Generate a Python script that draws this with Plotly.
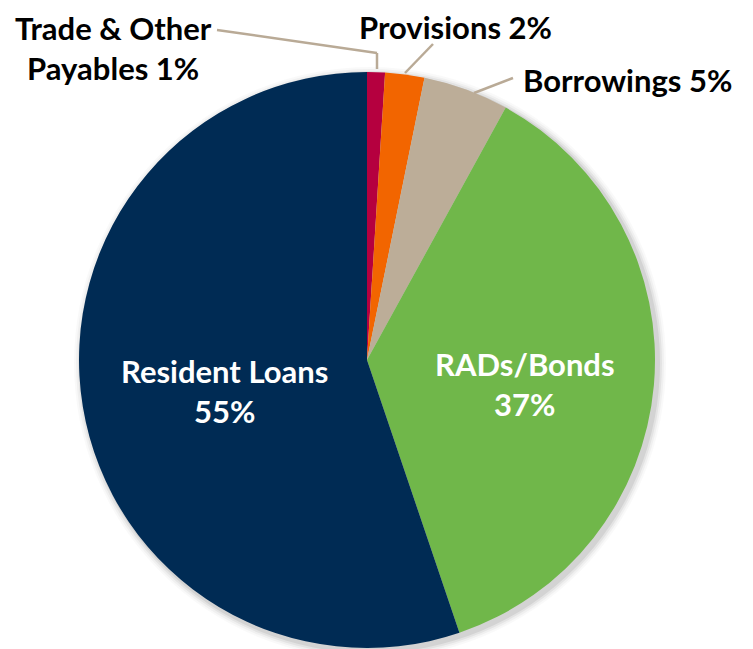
import plotly.graph_objects as go

# ---- data ----
labels = ["Trade & Other Payables", "Provisions", "Borrowings", "RADs/Bonds", "Resident Loans"]
display_labels = ["Trade & Other<br>Payables", "Provisions", "Borrowings", "RADs/Bonds", "Resident Loans"]
values = [1.0, 2.2, 4.8, 36.8, 55.2]
colors = ["#B5003F", "#F26500", "#BCAD98", "#70B74A", "#002B54"]

W, H = 753, 649
CX, CY, R = 367, 360, 288

def px(x):
    return x / W

def py(y):
    return 1 - y / H

fig = go.Figure()
fig.add_trace(go.Pie(
    labels=labels,
    values=values,
    sort=False,
    direction="clockwise",
    rotation=0,
    marker=dict(colors=colors, line=dict(width=0)),
    textinfo="none",
    hoverinfo="label+percent",
    showlegend=False,
    domain=dict(x=[px(CX - R), px(CX + R)], y=[py(CY + R), py(CY - R)]),
))

# soft shadow
shapes = []
for d, a in [(8, 0.025), (6, 0.035), (4, 0.05), (2, 0.07)]:
    shapes.append(dict(type="circle", xref="paper", yref="paper", layer="below",
                       x0=px(CX - R - d + 3), x1=px(CX + R + d + 3),
                       y0=py(CY + R + d + 3), y1=py(CY - R - d + 3),
                       fillcolor=f"rgba(0,0,0,{a})", line=dict(width=0)))

# leader lines
line_col = "#B9AA96"
leaders = [
    [(217, 30), (377, 53), (377, 69)],
    [(433, 44), (405, 73)],
    [(513, 78), (474, 93)],
]
for pts in leaders:
    for (x0, y0), (x1, y1) in zip(pts[:-1], pts[1:]):
        shapes.append(dict(type="line", xref="paper", yref="paper",
                           x0=px(x0), y0=py(y0), x1=px(x1), y1=py(y1),
                           line=dict(color=line_col, width=2.5)))

font_fam = "Lato, Open Sans, sans-serif"
FS = 31

def pct(v):
    return f"{round(v)}%"

annotations = []
# outside labels
outside = [(0, 113, 48), (1, 455, 27), (2, 627, 80)]
for idx, x, y in outside:
    annotations.append(dict(
        x=px(x), y=py(y), xref="paper", yref="paper", showarrow=False,
        xanchor="center", yanchor="middle",
        text=f"<b>{display_labels[idx]} {pct(values[idx])}</b>", align="center",
        font=dict(family=font_fam, size=FS, color="#000000"),
    ))
# inside labels
inside = [(3, 525, 384), (4, 224, 391)]
for idx, x, y in inside:
    annotations.append(dict(
        x=px(x), y=py(y), xref="paper", yref="paper", showarrow=False,
        xanchor="center", yanchor="middle",
        text=f"<b>{display_labels[idx]}<br>{pct(values[idx])}</b>", align="center",
        font=dict(family=font_fam, size=FS, color="#FFFFFF"),
    ))

fig.update_layout(
    width=W, height=H,
    margin=dict(l=0, r=0, t=0, b=0),
    paper_bgcolor="#FFFFFF",
    plot_bgcolor="#FFFFFF",
    shapes=shapes,
    annotations=annotations,
)
fig.write_html("out.html")
